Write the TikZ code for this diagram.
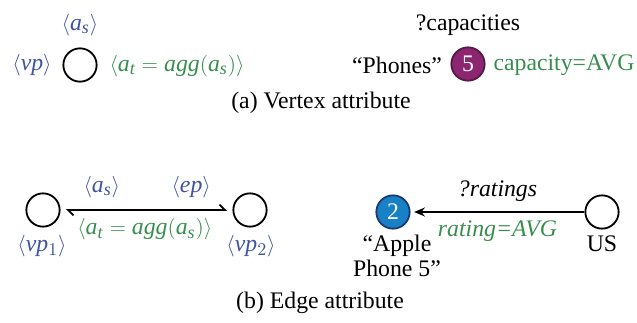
\documentclass[tikz,border=0pt]{standalone}
\usepackage{fontspec}
\setmainfont{Liberation Serif}
\DeclareSymbolFont{letters}{TU}{\rmdefault}{m}{it}
\DeclareSymbolFont{operators}{TU}{\rmdefault}{m}{n}
\DeclareMathSizes{13.2}{13.2}{10}{8}
\usepackage{xcolor}
\usetikzlibrary{arrows.meta, positioning}
\definecolor{attrblue}{RGB}{62,84,158}
\definecolor{agggreen}{RGB}{56,142,78}
\definecolor{phonepurple}{RGB}{140,38,112}
\definecolor{phoneborder}{RGB}{88,24,72}
\definecolor{itemblue}{RGB}{24,128,196}
\definecolor{itemborder}{RGB}{30,58,118}
\tikzset{
  every node/.style={font=\fontsize{13.2}{14}\selectfont},
  vertex/.style={circle, draw=black, line width=1pt, minimum size=18.5pt, inner sep=0pt},
  entity/.style={vertex, text=white},
  attr/.style={text=attrblue},
  agg/.style={text=agggreen},
  harpoons/.style={line width=1pt, {Straight Barb[left, length=3pt]}-{Straight Barb[left, length=3pt]}, shorten <=3pt, shorten >=3pt},
  pointer/.style={line width=1pt, -{Stealth[length=6pt, width=5pt]}, shorten >=2pt}
}
\begin{document}
\begin{tikzpicture}[x=0.5556pt, y=-0.5556pt]
\useasboundingbox (0,0) rectangle (637,323);

% (a) vertex attribute
\node[vertex] (va) at (80,65) {};
\node[attr] (vaas) at (80,25) {$\langle a_s\rangle$};
\node[attr] (vavp) at (32,65) {$\langle vp\rangle$};
\node[agg] (vaagg) at (177,66) {$\langle a_t = agg(a_s)\rangle$};

\node[entity, fill=phonepurple, draw=phoneborder] (phones) at (468,64) {5};
\node (phonescap) at (468,25) {?capacities};
\node (phonesname) at (397,65) {``Phones''};
\node[agg] (phonesagg) at (564,65) {capacity=AVG};

\node (capa) at (321,103) {(a) Vertex attribute};

% (b) edge attribute
\node[vertex] (vb1) at (43,210) {};
\node[vertex] (vb2) at (250,210) {};
\node[attr] (vb1vp) at (42,246) {$\langle vp_1\rangle$};
\node[attr] (vb2vp) at (251,246) {$\langle vp_2\rangle$};
\draw[harpoons] (vb1) -- (vb2)
  node[attr, above=3pt, pos=0.24] (ebas) {$\langle a_s\rangle$}
  node[attr, above=3pt, pos=0.76] (ebep) {$\langle ep\rangle$}
  node[agg, below=1pt, pos=0.49] (ebagg) {$\langle a_t = agg(a_s)\rangle$};

\node[entity, fill=itemblue, draw=itemborder] (apple) at (393,212) {2};
\node[vertex] (us) at (602,212) {};
\node[align=center] (applename) at (397,256) {``Apple\\Phone 5''};
\node (usname) at (602,244) {US};
\draw[pointer] (us) -- (apple)
  node[above=2pt, pos=0.5] (ratq) {\textit{?ratings}}
  node[agg, below=1pt, pos=0.5] (ratagg) {\textit{rating=AVG}};

\node (capb) at (320,303) {(b) Edge attribute};
\end{tikzpicture}
\end{document}
